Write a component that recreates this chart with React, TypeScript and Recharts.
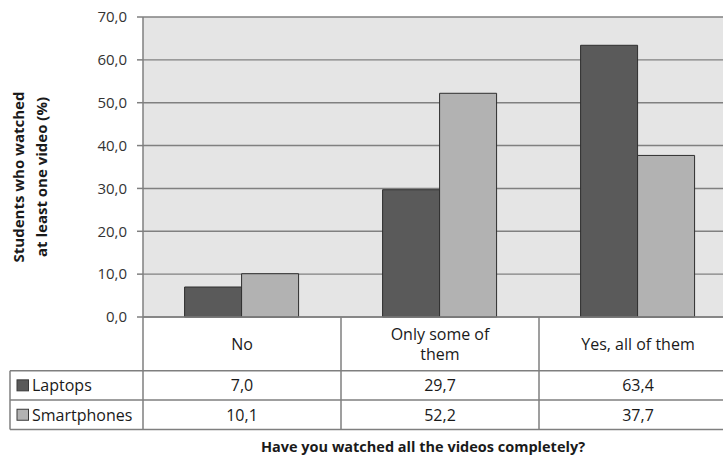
import React from "react";
import { BarChart, Bar, XAxis, YAxis, CartesianGrid } from "recharts";

const categories = ["No", "Only some of them", "Yes, all of them"];
const categoryLabelLines = [["No"], ["Only some of", "them"], ["Yes, all of them"]];
const laptops = [7.0, 29.7, 63.4];
const smartphones = [10.1, 52.2, 37.7];
const seriesNames = ["Laptops", "Smartphones"];
const seriesColors = ["#5a5a5a", "#b2b2b2"];
const yTicks = [0, 10, 20, 30, 40, 50, 60, 70];
const yLabelLines = ["Students who watched", "at least one video (%)"];
const xTitle = "Have you watched all the videos completely?";

const data = categories.map((c, i) => ({ name: c, laptops: laptops[i], smartphones: smartphones[i] }));
const seriesValues = [laptops, smartphones];

const CHART_W = 740;
const CHART_H = 463;
const MARGIN = { top: 17, right: 3, bottom: 0, left: 0 };
const Y_AXIS_W = 143;
const X_AXIS_H = 146;
const PLOT_W = CHART_W - MARGIN.left - MARGIN.right - Y_AXIS_W;
const BAND = PLOT_W / categories.length;
const LEGEND_LEFT = 10;
const ROW1 = 53.7;
const ROW2 = 83;
const ROW3 = 112.5;
const LINE = "#7f7f7f";
const FONT = "'Open Sans', sans-serif";
const TEXT = "#1a1a1a";

const fmt = (v: number) => v.toFixed(1).replace(".", ",");

function TableTick(props: any) {
  const { x, y, index } = props;
  const left = x - BAND / 2;
  const right = x + BAND / 2;
  const y1 = y + ROW1;
  const y2 = y + ROW2;
  const y3 = y + ROW3;
  const lines = categoryLabelLines[index] || [String(props.payload?.value ?? "")];
  const lh = 20;
  const cy = (y + y1) / 2;
  const startY = cy - ((lines.length - 1) * lh) / 2;
  return (
    <g>
      <line x1={right} x2={right} y1={y} y2={y3} stroke={LINE} strokeWidth={1.5} />
      {index === 0 && <line x1={left} x2={left} y1={y} y2={y3} stroke={LINE} strokeWidth={1.5} />}
      {[y1, y2, y3].map((yy, k) => (
        <line key={k} x1={index === 0 ? LEGEND_LEFT : left} x2={right} y1={yy} y2={yy} stroke={LINE} strokeWidth={1.5} />
      ))}
      {index === 0 && (
        <g>
          <line x1={LEGEND_LEFT} x2={LEGEND_LEFT} y1={y1} y2={y3} stroke={LINE} strokeWidth={1.5} />
          {seriesNames.map((n, k) => {
            const rowC = k === 0 ? (y1 + y2) / 2 : (y2 + y3) / 2;
            return (
              <g key={n}>
                <rect x={17} y={rowC - 5.5} width={11.5} height={11} fill={seriesColors[k]} stroke="#3a3a3a" strokeWidth={1} />
                <text x={32} y={rowC} dominantBaseline="central" fontFamily={FONT} fontSize={16} fill={TEXT}>
                  {n}
                </text>
              </g>
            );
          })}
        </g>
      )}
      {lines.map((l, k) => (
        <text key={k} x={x} y={startY + k * lh} textAnchor="middle" dominantBaseline="central" fontFamily={FONT} fontSize={16} fill={TEXT}>
          {l}
        </text>
      ))}
      {seriesValues.map((vals, k) => {
        const rowC = k === 0 ? (y1 + y2) / 2 : (y2 + y3) / 2;
        return (
          <text key={k} x={x} y={rowC} textAnchor="middle" dominantBaseline="central" fontFamily={FONT} fontSize={16} fill={TEXT}>
            {fmt(vals[index])}
          </text>
        );
      })}
    </g>
  );
}

function YLabel(props: any) {
  const vb = props.viewBox || { x: 0, y: MARGIN.top, width: Y_AXIS_W, height: 300 };
  const cy = vb.y + vb.height / 2 + 10;
  const xs = [18, 41];
  return (
    <g>
      {yLabelLines.map((l, k) => (
        <text
          key={k}
          x={vb.x + xs[k]}
          y={cy}
          transform={`rotate(-90, ${vb.x + xs[k]}, ${cy})`}
          textAnchor="middle"
          dominantBaseline="central"
          fontFamily={FONT}
          fontWeight="bold"
          fontSize={15}
          fill={TEXT}
        >
          {l}
        </text>
      ))}
    </g>
  );
}

function XTitle(props: any) {
  const vb = props.viewBox || { x: Y_AXIS_W, y: 317, width: PLOT_W, height: X_AXIS_H };
  return (
    <text
      x={vb.x + vb.width / 2 - 17}
      y={vb.y + vb.height - 17}
      textAnchor="middle"
      dominantBaseline="central"
      fontFamily={FONT}
      fontWeight="bold"
      fontSize={14.5}
      fill={TEXT}
    >
      {xTitle}
    </text>
  );
}

export default function App() {
  return (
    <div style={{ position: "absolute", left: 0, top: 0, width: 723, height: 463, overflow: "hidden", background: "#fff" }}>
      <BarChart width={CHART_W} height={CHART_H} data={data} margin={MARGIN} barCategoryGap="21%" barGap={0}>
        <CartesianGrid vertical={false} fill="#e5e5e5" stroke="#808080" strokeWidth={1.4} />
        <XAxis
          dataKey="name"
          type="category"
          height={X_AXIS_H}
          interval={0}
          tickLine={false}
          tickSize={0}
          tickMargin={0}
          axisLine={{ stroke: LINE, strokeWidth: 1.5 }}
          tick={<TableTick />}
          label={{ content: (p: any) => <XTitle {...p} /> }}
        />
        <YAxis
          width={Y_AXIS_W}
          domain={[0, 70]}
          ticks={yTicks}
          interval={0}
          tickFormatter={fmt}
          tickSize={6}
          tickMargin={10}
          tickLine={{ stroke: LINE, strokeWidth: 1.5 }}
          axisLine={{ stroke: LINE, strokeWidth: 1.5 }}
          tick={{ fontFamily: FONT, fontSize: 15, fill: "#333" }}
          label={{ content: (p: any) => <YLabel {...p} /> }}
        />
        <Bar dataKey="laptops" name={seriesNames[0]} fill={seriesColors[0]} stroke="#2e2e2e" strokeWidth={1} isAnimationActive={false} />
        <Bar dataKey="smartphones" name={seriesNames[1]} fill={seriesColors[1]} stroke="#2e2e2e" strokeWidth={1} isAnimationActive={false} />
      </BarChart>
    </div>
  );
}
